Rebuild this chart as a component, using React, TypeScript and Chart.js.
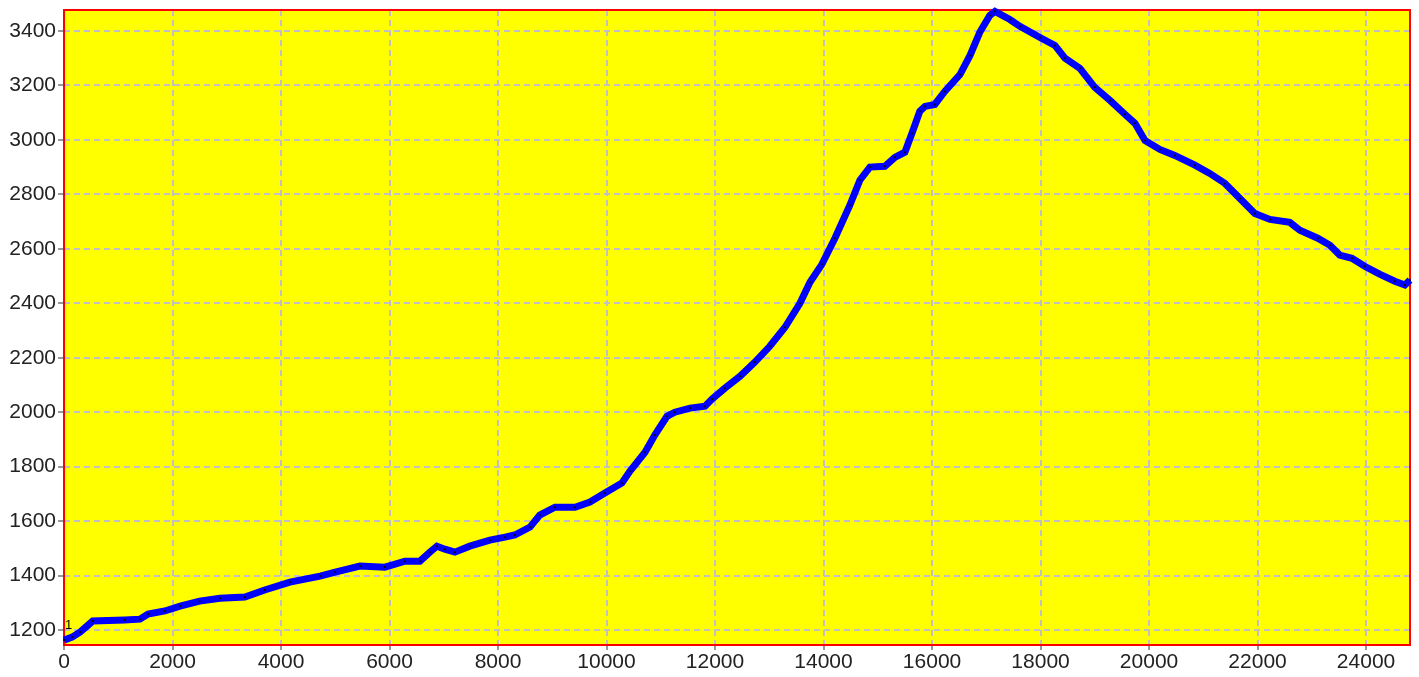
import React, { useEffect, useRef } from "react";
import { Chart, registerables } from "chart.js";

Chart.register(...registerables);

const tradeIndex: number[] = [
  0, 150, 300, 530, 1120, 1400, 1550, 1860, 2140, 2500, 2875, 3335, 3700, 4165, 4720, 5000,
  5455, 5915, 6285, 6560, 6745, 6875, 7020, 7205, 7480, 7850, 8130, 8310, 8590, 8770, 9050,
  9420, 9695, 9970, 10285, 10430, 10710, 10890, 11115, 11260, 11540, 11815, 11945, 12180,
  12460, 12735, 13010, 13290, 13565, 13750, 13970, 14210, 14485, 14670, 14855, 15130, 15315,
  15500, 15630, 15775, 15870, 16050, 16235, 16515, 16700, 16880, 17065, 17160, 17435, 17620,
  17990, 18265, 18450, 18725, 19000, 19280, 19555, 19740, 19925, 20200, 20475, 20845, 21120,
  21400, 21675, 21950, 22230, 22595, 22780, 23110, 23335, 23515, 23740, 23975, 24250, 24530,
  24715, 24810,
];

const balance: number[] = [
  1163, 1174, 1193, 1233, 1237, 1240, 1259, 1270, 1288, 1306, 1317, 1321, 1347, 1376, 1398, 1413,
  1435, 1431, 1453, 1453, 1486, 1508, 1497, 1486, 1508, 1530, 1541, 1549, 1578, 1622, 1651,
  1651, 1670, 1703, 1740, 1783, 1853, 1916, 1985, 2000, 2015, 2022, 2048, 2088,
  2132, 2184, 2242, 2312, 2400, 2477, 2543, 2639, 2760, 2852, 2900, 2903, 2936,
  2955, 3024, 3105, 3123, 3130, 3178, 3240, 3310, 3395, 3457, 3472, 3442, 3417,
  3376, 3347, 3300, 3263, 3193, 3145, 3094, 3061, 2998, 2965, 2943, 2907, 2877,
  2840, 2785, 2730, 2708, 2697, 2668, 2639, 2613, 2577, 2565, 2536, 2507, 2481,
  2467, 2485,
];

const xTickValues: number[] = [0, 2000, 4000, 6000, 8000, 10000, 12000, 14000, 16000, 18000, 20000, 22000, 24000];
const yTickValues: number[] = [1200, 1400, 1600, 1800, 2000, 2200, 2400, 2600, 2800, 3000, 3200, 3400];

const X_MIN = 0;
const X_MAX = 24810;
const Y_MIN = 1145;
const Y_MAX = 3477;

const areaPlugin = {
  id: "areaPlugin",
  beforeDraw(chart: any) {
    const { ctx, chartArea } = chart;
    ctx.save();
    ctx.fillStyle = "#ffff00";
    ctx.fillRect(chartArea.left, chartArea.top, chartArea.right - chartArea.left, chartArea.bottom - chartArea.top);
    ctx.restore();
  },
  beforeDatasetsDraw(chart: any) {
    const { ctx, chartArea } = chart;
    ctx.save();
    ctx.strokeStyle = "#ff0000";
    ctx.lineWidth = 2;
    ctx.strokeRect(chartArea.left, chartArea.top, chartArea.right - chartArea.left, chartArea.bottom - chartArea.top);
    ctx.restore();
  },
  afterDatasetsDraw(chart: any) {
    const { ctx } = chart;
    const xs = chart.scales.x;
    const ys = chart.scales.y;
    const px = xs.getPixelForValue(tradeIndex[0]);
    const py = ys.getPixelForValue(balance[0]);
    ctx.save();
    ctx.fillStyle = "#000000";
    ctx.font = "13px 'Liberation Sans', Arial, sans-serif";
    ctx.textAlign = "left";
    ctx.textBaseline = "bottom";
    ctx.fillText("1", px + 1, py - 8);
    ctx.restore();
  },
};

export default function App() {
  const ref = useRef<HTMLCanvasElement | null>(null);

  useEffect(() => {
    if (!ref.current) return;
    const data = tradeIndex.map((x, i) => ({ x, y: balance[i] }));
    const font = { family: "'Liberation Sans', Arial, sans-serif", size: 21 };
    const gridOpts: any = {
      color: "#c0c0c0",
      lineWidth: 2,
      tickColor: "#333333",
      tickWidth: 1,
      tickBorderDash: [],
    };
    const chart = new Chart(ref.current, {
      type: "line",
      data: {
        datasets: [
          {
            data,
            borderColor: "#0000ff",
            borderWidth: 7,
            pointRadius: 1,
            pointBackgroundColor: "#000000",
            pointBorderWidth: 0,
            tension: 0,
            clip: 4,
          } as any,
        ],
      },
      options: {
        animation: false,
        responsive: false,
        maintainAspectRatio: false,
        layout: { padding: { left: 0, top: 10, right: 9, bottom: 0 } },
        plugins: { legend: { display: false }, tooltip: { enabled: false } },
        scales: {
          x: {
            type: "linear",
            min: X_MIN,
            max: X_MAX,
            afterBuildTicks: (scale: any) => {
              scale.ticks = xTickValues.map((value) => ({ value }));
            },
            afterFit: (scale: any) => {
              scale.height = 32;
              scale.paddingLeft = 0;
              scale.paddingRight = 0;
            },
            ticks: {
              font,
              color: "#222222",
              padding: 0,
              maxRotation: 0,
              autoSkip: false,
              callback: (v: any) => String(v),
            },
            grid: { ...gridOpts, tickLength: 5 },
            border: { display: false, dash: [6, 4] },
          },
          y: {
            type: "linear",
            min: Y_MIN,
            max: Y_MAX,
            afterBuildTicks: (scale: any) => {
              scale.ticks = yTickValues.map((value) => ({ value }));
            },
            afterFit: (scale: any) => {
              scale.width = 64;
              scale.paddingTop = 0;
              scale.paddingBottom = 0;
            },
            ticks: {
              font,
              color: "#222222",
              padding: 2,
              autoSkip: false,
              callback: (v: any) => String(v),
            },
            grid: { ...gridOpts, tickLength: 6 },
            border: { display: false, dash: [6, 4] },
          },
        },
      },
      plugins: [areaPlugin],
    });
    return () => chart.destroy();
  }, []);

  return (
    <div style={{ position: "fixed", left: 0, top: 0, width: 1419, height: 677, background: "#ffffff" }}>
      <canvas ref={ref} width={1419} height={677} style={{ display: "block" }} />
    </div>
  );
}
